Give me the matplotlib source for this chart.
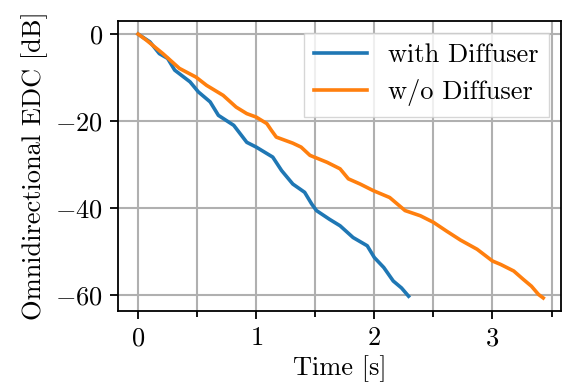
import numpy as np
import matplotlib
matplotlib.use("Agg")
import matplotlib.pyplot as plt
from matplotlib.ticker import MultipleLocator

# LaTeX-like look
plt.rcParams['font.family'] = 'serif'
plt.rcParams['font.serif'] = ['cmr10']
plt.rcParams['mathtext.fontset'] = 'cm'
plt.rcParams['axes.formatter.use_mathtext'] = True
plt.rcParams['font.size'] = 19

#EDC curves
t_with = [0.0, 0.10, 0.18, 0.25, 0.31, 0.44, 0.51, 0.61, 0.68, 0.81, 0.92, 1.00,
          1.14, 1.215, 1.31, 1.41, 1.47, 1.51, 1.62, 1.71, 1.82, 1.94, 2.00,
          2.08, 2.16, 2.23, 2.29]
edc_with = [0.0, -1.8, -4.5, -5.6, -8.3, -11.0, -13.3, -15.6, -18.7, -21.0, -24.9, -26.0,
            -28.3, -31.4, -34.5, -36.4, -39.1, -40.6, -42.6, -44.1, -46.8, -48.7, -51.4,
            -53.7, -56.8, -58.4, -60.3]

t_without = [0.0, 0.07, 0.21, 0.35, 0.49, 0.58, 0.72, 0.83, 0.92, 1.00, 1.09, 1.13,
             1.17, 1.31, 1.38, 1.455, 1.60, 1.71, 1.78, 1.88, 1.99, 2.13, 2.26, 2.39,
             2.50, 2.61, 2.73, 2.87, 3.00, 3.07, 3.18, 3.26, 3.33, 3.39, 3.43]
edc_without = [0.0, -1.4, -4.5, -7.9, -9.9, -11.8, -14.1, -16.8, -18.3, -19.1, -20.6, -22.2,
               -23.7, -25.1, -26.0, -27.9, -29.5, -31.0, -33.3, -34.5, -36.0, -37.6, -40.6, -41.8,
               -43.3, -45.3, -47.4, -49.5, -52.2, -53.0, -54.5, -56.4, -58.0, -59.9, -60.7]

fig, ax = plt.subplots(figsize=(5.63, 3.87), dpi=100)
fig.subplots_adjust(left=0.2096, right=0.9964, top=0.9457, bottom=0.1964)

ax.plot(t_with, edc_with, color='#1f77b4', lw=2.6, label='with Diffuser')
ax.plot(t_without, edc_without, color='#ff7f0e', lw=2.6, label='w/o Diffuser')

ax.set_xlim(-0.17, 3.58)
ax.set_ylim(-63.7, 3.0)
ax.xaxis.set_major_locator(MultipleLocator(1))
ax.xaxis.set_minor_locator(MultipleLocator(0.5))
ax.yaxis.set_major_locator(MultipleLocator(20))

ax.grid(True, which='both', axis='x', color='#b0b0b0', lw=1.5)
ax.grid(True, which='major', axis='y', color='#b0b0b0', lw=1.5)
ax.set_axisbelow(True)

for s in ax.spines.values():
    s.set_linewidth(1.3)
ax.tick_params(which='major', length=6, width=1.3, pad=5)
ax.tick_params(which='minor', length=4, width=1.3)

ax.set_xlabel('Time [s]', labelpad=4)
ax.set_ylabel('Omnidirectional EDC [dB]', labelpad=5)
ax.legend(loc='upper right', fancybox=False, handlelength=2.0, framealpha=0.8,
          borderaxespad=0.45, labelspacing=0.45)

plt.savefig('out.png', dpi=100)
